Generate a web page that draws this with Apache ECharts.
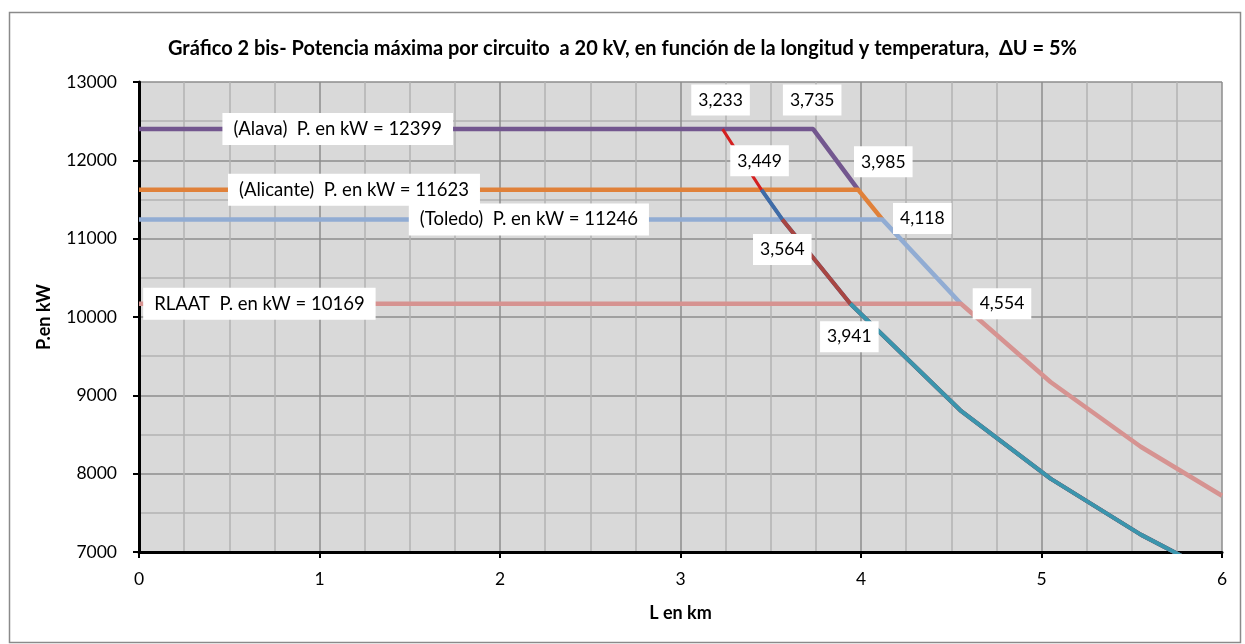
<!DOCTYPE html>
<html><head><meta charset="utf-8">
<script src="https://cdn.jsdelivr.net/npm/echarts@6/dist/echarts.min.js"></script>
<style>html,body{margin:0;padding:0;background:#fff}#c{width:1245px;height:644px}</style>
</head><body><div id="c"></div>
<script>
// ---- data ----
const titleText = 'Gráfico 2 bis- Potencia máxima por circuito  a 20 kV, en función de la longitud y temperatura,  ΔU = 5%';
const xTicks = [0, 1, 2, 3, 4, 5, 6];
const yTicks = [7000, 8000, 9000, 10000, 11000, 12000, 13000];
const siteNames = ['(Alava)', '(Alicante)', '(Toledo)', 'RLAAT'];
const powerKW = [12399, 11623, 11246, 10169];
// upper limit curve (knee lengths per site, then tail)
const upperKneeL = [3.735, 3.985, 4.118, 4.554];
const upperTailL = [5.05, 5.55, 6.0];
const upperTailP = [9170, 8344, 7718];
// lower limit curve (start lengths per site, then tail)
const lowerStartL = [3.233, 3.449, 3.564, 3.941];
const lowerTailL = [4.55, 5.05, 5.55, 6.0];
const lowerTailP = [8809, 7937, 7222, 6680];

// ---- styles ----
const upperColors = ['#73578F', '#E0813A', '#91ACD3', '#D69391'];
const lowerColors = ['#D42020', '#3E6CA8', '#A84642', '#3A95AD'];
const nameLabelX = [1.101, 1.191, 2.16, 0.667];
const upperLabelOffset = [[-1, -29], [25, -28], [40, -1], [41, 0]];
const lowerLabelOffset = [[-2, -29], [-2, -29], [0, 30], [-1, 33]];
const lowerWidths = [3, 4, 4, 4];
const FONT = 'Lato, "Open Sans", sans-serif';
const fmtL = v => v.toFixed(3).replace('.', ',');

const nameLabel = {
  show: true, position: 'inside', color: '#000', fontSize: 18.5, fontFamily: FONT,
  backgroundColor: '#fff', padding: [7, 11, 6, 11]
};
const numLabel = {
  show: true, position: 'inside', color: '#000', fontSize: 17.5, fontFamily: FONT,
  backgroundColor: '#fff', padding: [7, 7, 6, 7]
};

const series = [];
// upper family: horizontal + descending to next knee
for (let i = 0; i < 4; i++) {
  const d = [[0, powerKW[i]], [upperKneeL[i], powerKW[i]]];
  if (i < 3) d.push([upperKneeL[i + 1], powerKW[i + 1]]);
  else for (let k = 0; k < upperTailL.length; k++) d.push([upperTailL[k], upperTailP[k]]);
  series.push({
    type: 'line', data: d, showSymbol: false, symbol: 'none', z: 3 + i,
    lineStyle: { color: upperColors[i], width: 4.5 }, animation: false,
    markPoint: {
      z: 20, symbol: 'rect', symbolSize: 1, itemStyle: { color: 'rgba(0,0,0,0)' }, animation: false,
      data: [
        { coord: [nameLabelX[i], powerKW[i]], label: Object.assign({}, nameLabel, { formatter: siteNames[i] + '  P. en kW = ' + powerKW[i] }) },
        { coord: [upperKneeL[i], powerKW[i]], label: Object.assign({}, numLabel, { offset: upperLabelOffset[i], formatter: fmtL(upperKneeL[i]) }) }
      ]
    }
  });
}
// lower family: starts at each site's level, follows the lower curve
for (let i = 0; i < 4; i++) {
  const d = [];
  for (let j = i; j < 4; j++) d.push([lowerStartL[j], powerKW[j]]);
  for (let k = 0; k < lowerTailL.length; k++) d.push([lowerTailL[k], lowerTailP[k]]);
  series.push({
    type: 'line', data: d, showSymbol: false, symbol: 'none', z: 8 + i, clip: true,
    lineStyle: { color: lowerColors[i], width: lowerWidths[i] }, animation: false,
    markPoint: {
      z: 20, symbol: 'rect', symbolSize: 1, itemStyle: { color: 'rgba(0,0,0,0)' }, animation: false,
      data: [
        { coord: [lowerStartL[i], powerKW[i]], label: Object.assign({}, numLabel, { offset: lowerLabelOffset[i], formatter: fmtL(lowerStartL[i]) }) }
      ]
    }
  });
}

const chart = echarts.init(document.getElementById('c'), null, { renderer: 'canvas' });
chart.setOption({
  animation: false,
  backgroundColor: '#fff',
  title: {
    text: titleText, left: 'center', top: 34,
    textStyle: { fontFamily: FONT, fontWeight: 'bold', fontSize: 20, color: '#000' }
  },
  graphic: [{
    type: 'rect', left: 7, top: 10, shape: { width: 1231, height: 630 },
    style: { fill: 'none', stroke: '#8a8a8a', lineWidth: 1.5 }, silent: true, z: -1
  }],
  grid: { left: 139, right: 23, top: 82, bottom: 92, show: true, backgroundColor: '#D9D9D9', borderWidth: 0 },
  xAxis: {
    type: 'value', min: xTicks[0], max: xTicks[xTicks.length - 1], interval: 1,
    name: 'L en km', nameLocation: 'middle', nameGap: 52,
    nameTextStyle: { fontFamily: FONT, fontWeight: 'bold', fontSize: 18, color: '#000' },
    axisLine: { show: true, onZero: false, lineStyle: { color: '#000', width: 3 } },
    axisTick: { show: true, length: 6, lineStyle: { color: '#000', width: 2 } },
    axisLabel: { fontFamily: FONT, fontSize: 17.5, color: '#000', margin: 18 },
    splitLine: { show: true, lineStyle: { color: '#8C8C8C', width: 1.5 } },
    minorTick: { show: false, splitNumber: 4 },
    minorSplitLine: { show: true, lineStyle: { color: '#B3B3B3', width: 1.5 } }
  },
  yAxis: {
    type: 'value', min: yTicks[0], max: yTicks[yTicks.length - 1], interval: 1000,
    name: 'P.en kW', nameLocation: 'middle', nameGap: 86, nameRotate: 90,
    nameTextStyle: { fontFamily: FONT, fontWeight: 'bold', fontSize: 18, color: '#000' },
    axisLine: { show: true, onZero: false, lineStyle: { color: '#000', width: 3 } },
    axisTick: { show: true, length: 6, lineStyle: { color: '#000', width: 2 } },
    axisLabel: { fontFamily: FONT, fontSize: 17.5, color: '#000', margin: 22, formatter: v => String(v) },
    splitLine: { show: true, lineStyle: { color: '#8C8C8C', width: 1.5 } },
    minorTick: { show: false, splitNumber: 2 },
    minorSplitLine: { show: true, lineStyle: { color: '#B3B3B3', width: 1.5 } }
  },
  series: series
});
</script></body></html>
